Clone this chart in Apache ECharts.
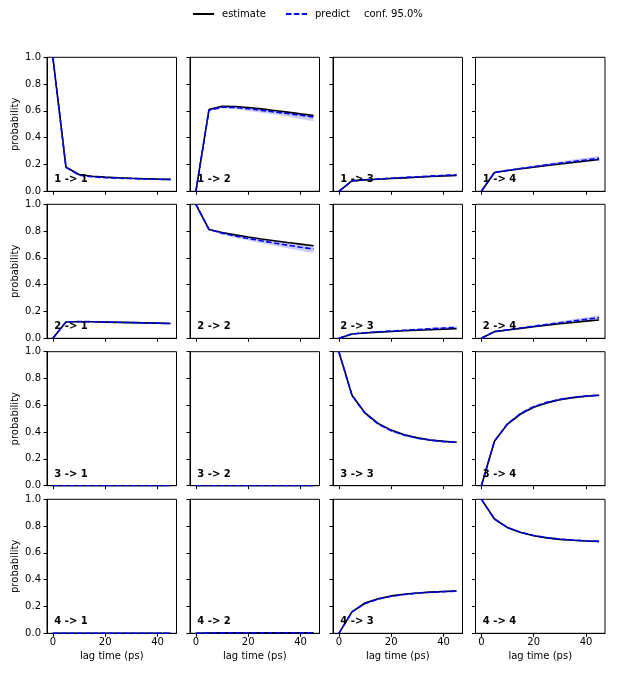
<!DOCTYPE html>
<html>
<head>
<meta charset="utf-8">
<script src="https://cdn.jsdelivr.net/npm/echarts@6/dist/echarts.min.js"></script>
<style>
  html, body { margin: 0; padding: 0; background: #fff; }
  #chart { width: 620px; height: 675px; }
</style>
</head>
<body>
<div id="chart"></div>
<script>
window.addEventListener('load', () => {

// lag times (ps)
const lags = [0, 5, 10, 15, 20, 25, 30, 35, 40, 45];

// panel titles, row-major (i -> j)
const titles = [
  '1 -> 1', '1 -> 2', '1 -> 3', '1 -> 4',
  '2 -> 1', '2 -> 2', '2 -> 3', '2 -> 4',
  '3 -> 1', '3 -> 2', '3 -> 3', '3 -> 4',
  '4 -> 1', '4 -> 2', '4 -> 3', '4 -> 4'
];

// estimate (black)
const estimate = [
  [1, 0.18, 0.125, 0.112, 0.106, 0.101, 0.097, 0.094, 0.091, 0.089],
  [0, 0.61, 0.635, 0.633, 0.625, 0.615, 0.603, 0.591, 0.578, 0.566],
  [0, 0.078, 0.085, 0.09, 0.095, 0.1, 0.105, 0.11, 0.114, 0.118],
  [0, 0.14, 0.155, 0.168, 0.18, 0.192, 0.204, 0.215, 0.226, 0.237],
  [0, 0.122, 0.124, 0.123, 0.121, 0.119, 0.117, 0.115, 0.113, 0.111],
  [1, 0.812, 0.79, 0.772, 0.756, 0.741, 0.728, 0.715, 0.703, 0.691],
  [0, 0.032, 0.04, 0.046, 0.051, 0.056, 0.06, 0.064, 0.068, 0.072],
  [0, 0.05, 0.062, 0.074, 0.086, 0.097, 0.108, 0.118, 0.128, 0.137],
  [0, 0, 0, 0, 0, 0, 0, 0, 0, 0],
  [0, 0, 0, 0, 0, 0, 0, 0, 0, 0],
  [1, 0.675, 0.543, 0.465, 0.415, 0.38, 0.357, 0.341, 0.331, 0.324],
  [0, 0.332, 0.46, 0.535, 0.585, 0.618, 0.641, 0.657, 0.668, 0.675],
  [0, 0, 0, 0, 0, 0, 0, 0, 0, 0],
  [0, 0.002, 0.003, 0.003, 0.004, 0.004, 0.004, 0.004, 0.004, 0.004],
  [0, 0.16, 0.226, 0.258, 0.279, 0.292, 0.301, 0.307, 0.312, 0.316],
  [1, 0.853, 0.788, 0.752, 0.728, 0.712, 0.701, 0.694, 0.689, 0.686]
];

// predict (blue dashed)
const predict = [
  [1, 0.18, 0.12, 0.108, 0.102, 0.098, 0.095, 0.092, 0.09, 0.088],
  [0, 0.605, 0.628, 0.625, 0.616, 0.604, 0.592, 0.58, 0.567, 0.555],
  [0, 0.078, 0.086, 0.092, 0.098, 0.103, 0.108, 0.113, 0.118, 0.123],
  [0, 0.14, 0.156, 0.17, 0.184, 0.197, 0.21, 0.222, 0.234, 0.246],
  [0, 0.122, 0.125, 0.124, 0.122, 0.12, 0.118, 0.115, 0.113, 0.11],
  [1, 0.812, 0.785, 0.764, 0.745, 0.728, 0.711, 0.695, 0.68, 0.666],
  [0, 0.032, 0.041, 0.048, 0.054, 0.06, 0.066, 0.071, 0.076, 0.081],
  [0, 0.05, 0.063, 0.077, 0.09, 0.103, 0.116, 0.129, 0.142, 0.154],
  [0, 0, 0, 0, 0, 0, 0, 0, 0, 0],
  [0, 0, 0, 0, 0, 0, 0, 0, 0, 0],
  [1, 0.675, 0.54, 0.46, 0.41, 0.377, 0.355, 0.34, 0.33, 0.324],
  [0, 0.332, 0.462, 0.54, 0.59, 0.622, 0.644, 0.659, 0.669, 0.675],
  [0, 0, 0, 0, 0, 0, 0, 0, 0, 0],
  [0, 0.002, 0.003, 0.003, 0.004, 0.004, 0.004, 0.004, 0.004, 0.004],
  [0, 0.16, 0.222, 0.255, 0.276, 0.29, 0.3, 0.306, 0.311, 0.315],
  [1, 0.853, 0.79, 0.754, 0.73, 0.714, 0.703, 0.695, 0.69, 0.686]
];

// 95% confidence band, lower edge
const confLow = [
  [1, 0.178, 0.116, 0.103, 0.097, 0.093, 0.09, 0.087, 0.085, 0.083],
  [0, 0.6, 0.618, 0.612, 0.6, 0.587, 0.573, 0.558, 0.54, 0.522],
  [0, 0.076, 0.083, 0.088, 0.093, 0.097, 0.101, 0.105, 0.109, 0.113],
  [0, 0.137, 0.151, 0.163, 0.175, 0.186, 0.197, 0.207, 0.217, 0.227],
  [0, 0.119, 0.121, 0.119, 0.117, 0.115, 0.112, 0.109, 0.107, 0.104],
  [1, 0.806, 0.775, 0.751, 0.729, 0.709, 0.69, 0.672, 0.654, 0.636],
  [0, 0.03, 0.038, 0.044, 0.05, 0.055, 0.06, 0.064, 0.068, 0.072],
  [0, 0.047, 0.059, 0.071, 0.083, 0.094, 0.105, 0.116, 0.126, 0.136],
  [0, 0, 0, 0, 0, 0, 0, 0, 0, 0],
  [0, 0, 0, 0, 0, 0, 0, 0, 0, 0],
  [1, 0.67, 0.533, 0.452, 0.402, 0.369, 0.347, 0.332, 0.322, 0.316],
  [0, 0.327, 0.455, 0.532, 0.582, 0.614, 0.636, 0.651, 0.661, 0.667],
  [0, 0, 0, 0, 0, 0, 0, 0, 0, 0],
  [0, 0.001, 0.001, 0.001, 0.002, 0.002, 0.002, 0.002, 0.002, 0.002],
  [0, 0.156, 0.217, 0.249, 0.27, 0.284, 0.294, 0.3, 0.305, 0.309],
  [1, 0.849, 0.785, 0.748, 0.724, 0.708, 0.697, 0.689, 0.684, 0.68]
];

// 95% confidence band, upper edge
const confHigh = [
  [1, 0.182, 0.124, 0.113, 0.107, 0.103, 0.1, 0.097, 0.095, 0.093],
  [0, 0.61, 0.635, 0.634, 0.626, 0.616, 0.605, 0.594, 0.583, 0.572],
  [0, 0.08, 0.089, 0.096, 0.103, 0.109, 0.115, 0.121, 0.127, 0.133],
  [0, 0.143, 0.161, 0.177, 0.193, 0.208, 0.223, 0.237, 0.251, 0.265],
  [0, 0.125, 0.129, 0.129, 0.127, 0.125, 0.124, 0.121, 0.119, 0.116],
  [1, 0.816, 0.792, 0.774, 0.757, 0.742, 0.728, 0.714, 0.7, 0.688],
  [0, 0.034, 0.044, 0.052, 0.058, 0.065, 0.072, 0.078, 0.084, 0.09],
  [0, 0.053, 0.067, 0.083, 0.097, 0.112, 0.127, 0.142, 0.158, 0.172],
  [0, 0.001, 0.001, 0.001, 0.001, 0.001, 0.001, 0.001, 0.001, 0.001],
  [0, 0.001, 0.001, 0.001, 0.001, 0.001, 0.001, 0.001, 0.001, 0.001],
  [1, 0.68, 0.547, 0.468, 0.418, 0.385, 0.363, 0.348, 0.338, 0.332],
  [0, 0.337, 0.469, 0.548, 0.598, 0.63, 0.652, 0.667, 0.677, 0.683],
  [0, 0.001, 0.001, 0.001, 0.001, 0.001, 0.001, 0.001, 0.001, 0.001],
  [0, 0.003, 0.005, 0.005, 0.006, 0.006, 0.006, 0.006, 0.006, 0.006],
  [0, 0.164, 0.227, 0.261, 0.282, 0.296, 0.306, 0.312, 0.317, 0.321],
  [1, 0.857, 0.795, 0.76, 0.736, 0.72, 0.709, 0.701, 0.696, 0.692]
];

const xTicks = [0, 20, 40];

/////////////////////////////////////////

const FONT = 'DejaVu Sans';
const colLeft = [47, 190, 333, 475.5];
const rowTop = [57.3, 204.3, 351.7, 499.3];
const W = 129.5, H = 134;

const grids = [], xAxes = [], yAxes = [], series = [], graphics = [];

for (let k = 0; k < 16; k++) {
  const r = Math.floor(k / 4), c = k % 4;

  grids.push({
    left: colLeft[c], top: rowTop[r], width: W, height: H,
    show: true, borderColor: '#000', borderWidth: 1, backgroundColor: 'transparent'
  });

  xAxes.push({
    type: 'value', gridIndex: k, min: -2.25, max: 47.25,
    splitLine: { show: false },
    axisLine: { onZero: false, lineStyle: { color: '#000', width: 1 } },
    axisTick: { inside: false, length: 3.5, lineStyle: { color: '#000' }, customValues: xTicks },
    axisLabel: { show: r === 3, customValues: xTicks, margin: 4, color: '#000', fontFamily: FONT, fontSize: 10 },
    name: r === 3 ? 'lag time (ps)' : '',
    nameLocation: 'middle', nameGap: 18,
    nameTextStyle: { color: '#000', fontFamily: FONT, fontSize: 10 }
  });

  yAxes.push({
    type: 'value', gridIndex: k, min: 0, max: 1, interval: 0.2,
    splitLine: { show: false },
    axisLine: { show: true, onZero: false, lineStyle: { color: '#000', width: 1 } },
    axisTick: { show: true, inside: false, length: 3.5, lineStyle: { color: '#000' } },
    axisLabel: { show: c === 0, margin: 6, color: '#000', fontFamily: FONT, fontSize: 10,
      formatter: v => v.toFixed(1) },
    name: c === 0 ? 'probability' : '',
    nameLocation: 'middle', nameGap: 27,
    nameTextStyle: { color: '#000', fontFamily: FONT, fontSize: 10 }
  });

  const pts = arr => lags.map((x, i) => [x, arr[i]]);

  // confidence band as one polygon through the axis scales
  series.push({
    type: 'custom', name: 'conf. 95.0%', xAxisIndex: k, yAxisIndex: k,
    data: lags.map((x, i) => [x, confLow[k][i], confHigh[k][i]]),
    encode: { x: 0, y: [1, 2] },
    silent: true, clip: true, z: 1,
    renderItem: (params, api) => {
      if (params.dataIndex !== 0) return;
      const up = [], lo = [];
      for (let i = 0; i < lags.length; i++) {
        up.push(api.coord([lags[i], confHigh[k][i]]));
        lo.push(api.coord([lags[i], confLow[k][i]]));
      }
      return {
        type: 'polygon',
        shape: { points: up.concat(lo.reverse()) },
        style: { fill: 'rgba(0,0,255,0.2)', stroke: 'none' }
      };
    }
  });
  series.push({
    type: 'line', name: 'estimate', xAxisIndex: k, yAxisIndex: k, z: 2,
    data: pts(estimate[k]), symbol: 'none',
    lineStyle: { color: '#000', width: 1.6 }, itemStyle: { color: '#000' }
  });
  series.push({
    type: 'line', name: 'predict', xAxisIndex: k, yAxisIndex: k, z: 3,
    data: pts(predict[k]), symbol: 'none',
    lineStyle: { color: '#0000ff', width: 1.6, type: [5.5, 2.4] }, itemStyle: { color: '#0000ff' }
  });

  graphics.push({
    type: 'text', left: colLeft[c] + 7.3, top: rowTop[r] + H - 16.5, z: 100,
    style: { text: titles[k], fill: '#000', font: 'bold 10px "DejaVu Sans"' }
  });
}

const chart = echarts.init(document.getElementById('chart'), null, { renderer: 'canvas' });
chart.setOption({
  animation: false,
  backgroundColor: '#fff',
  legend: [
    {
      data: ['estimate', 'predict'], left: 192, top: 9, padding: 0,
      itemWidth: 21, itemHeight: 10, itemGap: 19,
      itemStyle: { opacity: 0 },
      textStyle: { color: '#000', fontFamily: FONT, fontSize: 10, padding: [0, 0, 0, 3] }
    },
    {
      data: [{ name: 'conf. 95.0%', itemStyle: { opacity: 0 } }],
      left: 355, top: 9, padding: 0, itemWidth: 1, itemHeight: 10,
      textStyle: { color: '#000', fontFamily: FONT, fontSize: 10, padding: [0, 0, 0, 3] }
    }
  ],
  grid: grids,
  xAxis: xAxes,
  yAxis: yAxes,
  series: series,
  graphic: graphics
});

});
</script>
</body>
</html>
